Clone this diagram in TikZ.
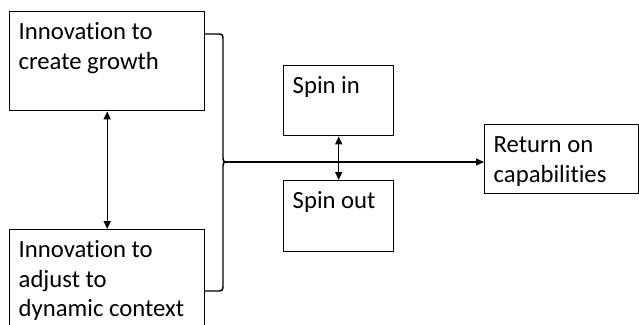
\documentclass[tikz,border=0pt]{standalone}
\usepackage{fontspec}
\setmainfont{Carlito}[Ligatures=NoCommon]
\usetikzlibrary{arrows.meta}
\tikzset{
     box/.style = { draw, line width=1.4pt, anchor=north west, inner xsep=9pt, inner ysep=0pt,
                    font=\fontsize{24.7}{29.5}\selectfont },
    line/.style = { line width=1.4pt },
   arrow/.style = { line width=1.4pt, -{Triangle[length=8pt,width=7pt]} },
  darrow/.style = { line width=1.4pt, {Triangle[length=8pt,width=7pt]}-{Triangle[length=8pt,width=7pt]} }
}
\newcommand*{\boxtext}[3]{\parbox[c][#2][t]{#1}{\raggedright\rule{0pt}{28pt}#3}}

\begin{document}
\begin{tikzpicture}[x=1pt,y=-1pt]
  \useasboundingbox (0,0) rectangle (639,324);

  \node[box] (grow)    at (9,11)   {\boxtext{177pt}{99pt}{Innovation to\\create growth}};
  \node[box] (adjust)  at (9,229)  {\boxtext{177pt}{110pt}{Innovation to\\adjust to\\dynamic context}};
  \node[box] (spinin)  at (283,65) {\boxtext{92pt}{70pt}{Spin in}};
  \node[box] (spinout) at (283,180){\boxtext{92pt}{71pt}{Spin out}};
  \node[box] (ret)     at (484,124){\boxtext{136pt}{69pt}{Return on\\capabilities}};

  % brace
  \coordinate (bt)  at (204,34);
  \coordinate (bb)  at (204,291);
  \coordinate (tip) at (229,162);
  \draw[line] (bt) -- (216,34) .. controls (223,34) .. (223,41) -- (223,155) .. controls (223,162) .. (tip);
  \draw[line] (bb) -- (216,291) .. controls (223,291) .. (223,284) -- (223,169) .. controls (223,162) .. (tip);

  \draw[arrow]  (tip) -- (tip -| ret.west);
  \draw[darrow] (grow) -- (adjust);
  \draw[darrow] (spinin) -- (spinout);
\end{tikzpicture}
\end{document}
